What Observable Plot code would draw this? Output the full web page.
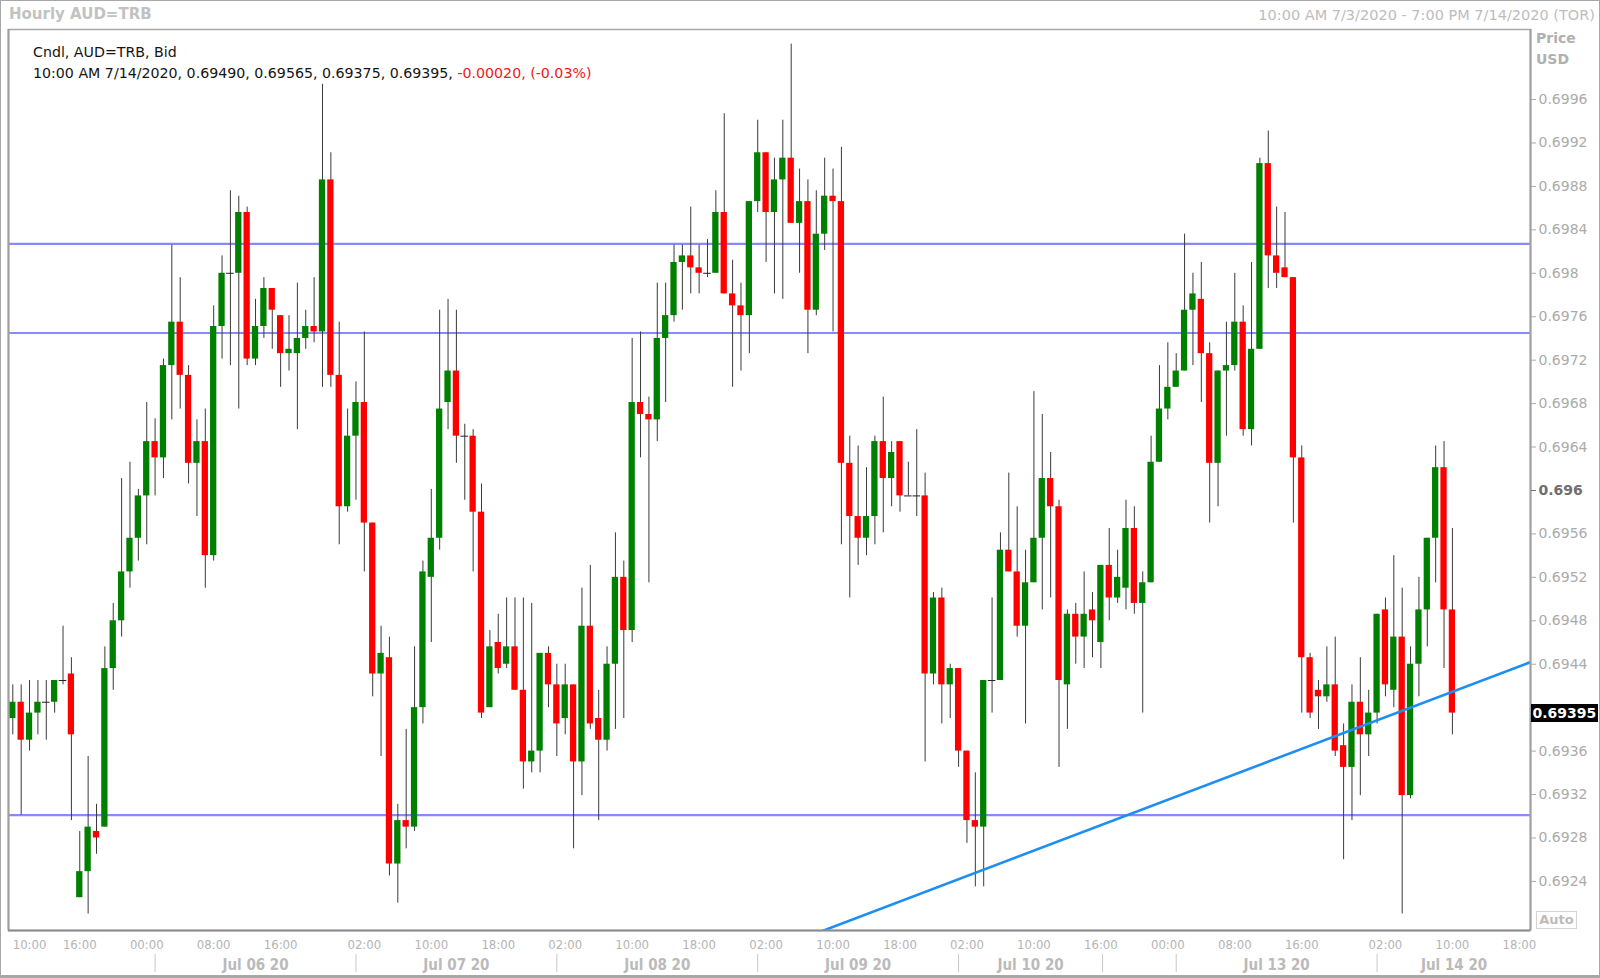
<!DOCTYPE html>
<html><head><meta charset="utf-8">
<script src="https://cdn.jsdelivr.net/npm/d3@7"></script>
<script src="https://cdn.jsdelivr.net/npm/@observablehq/plot@0.6"></script>
<style>
html,body{margin:0;padding:0;background:#fff;}
#wrap{position:relative;width:1600px;height:978px;overflow:hidden;font-family:"DejaVu Sans",sans-serif;}
#wrap svg{position:absolute;left:0;top:0;}
.ov{position:absolute;white-space:nowrap;line-height:1;}
#border{position:absolute;left:0;top:0;width:1600px;height:978px;box-sizing:border-box;border:1px solid #a8a8a8;border-bottom-width:3px;pointer-events:none;}
</style></head><body><div id="wrap"></div>
<script>
// ---- data: hourly candles AUD=TRB (index 1..173) ----
const opens = [
0.69390,0.69405,0.69370,0.69395,0.69405,0.69405,0.69425,0.69431,0.69225,0.69249,
0.69286,0.69290,0.69436,0.69480,0.69525,0.69556,0.69595,0.69645,0.69630,0.69715,
0.69755,0.69706,0.69625,0.69645,0.69540,0.69751,0.69800,0.69800,0.69856,0.69721,
0.69751,0.69786,0.69761,0.69726,0.69726,0.69740,0.69751,0.69746,0.69886,0.69706,
0.69585,0.69650,0.69681,0.69570,0.69431,0.69446,0.69256,0.69296,0.69290,0.69400,
0.69520,0.69556,0.69681,0.69710,0.69650,0.69650,0.69580,0.69400,0.69460,0.69440,
0.69456,0.69416,0.69350,0.69360,0.69450,0.69421,0.69390,0.69421,0.69350,0.69475,
0.69390,0.69370,0.69440,0.69520,0.69471,0.69681,0.69670,0.69665,0.69740,0.69761,
0.69810,0.69816,0.69805,0.69800,0.69800,0.69856,0.69781,0.69770,0.69761,0.69866,
0.69911,0.69856,0.69886,0.69906,0.69846,0.69866,0.69766,0.69836,0.69871,0.69866,
0.69625,0.69576,0.69556,0.69576,0.69645,0.69611,0.69645,0.69595,0.69595,0.69595,
0.69431,0.69501,0.69421,0.69436,0.69360,0.69296,0.69290,0.69425,0.69425,0.69545,
0.69525,0.69475,0.69515,0.69556,0.69611,0.69585,0.69421,0.69486,0.69465,0.69490,
0.69460,0.69531,0.69501,0.69510,0.69565,0.69496,0.69515,0.69626,0.69675,0.69695,
0.69710,0.69766,0.69776,0.69726,0.69625,0.69710,0.69715,0.69755,0.69656,0.69730,
0.69901,0.69816,0.69805,0.69796,0.69630,0.69446,0.69416,0.69410,0.69421,0.69365,
0.69345,0.69405,0.69375,0.69395,0.69490,0.69416,0.69465,0.69319,0.69440,0.69490,
0.69556,0.69621,0.69490];
const highs = [
0.69421,0.69421,0.69425,0.69425,0.69425,0.69425,0.69475,0.69446,0.69286,0.69355,
0.69311,0.69456,0.69496,0.69611,0.69626,0.69601,0.69681,0.69666,0.69721,0.69826,
0.69796,0.69715,0.69665,0.69675,0.69770,0.69816,0.69876,0.69871,0.69861,0.69776,
0.69796,0.69786,0.69761,0.69761,0.69791,0.69766,0.69796,0.69974,0.69911,0.69755,
0.69675,0.69700,0.69746,0.69570,0.69475,0.69465,0.69311,0.69380,0.69456,0.69535,
0.69601,0.69766,0.69776,0.69766,0.69661,0.69656,0.69606,0.69471,0.69486,0.69501,
0.69501,0.69501,0.69496,0.69450,0.69456,0.69440,0.69440,0.69421,0.69510,0.69531,
0.69416,0.69456,0.69561,0.69535,0.69740,0.69746,0.69686,0.69791,0.69791,0.69826,
0.69826,0.69861,0.69826,0.69831,0.69876,0.69947,0.69812,0.69791,0.69866,0.69941,
0.69911,0.69906,0.69941,0.70011,0.69896,0.69886,0.69876,0.69906,0.69896,0.69916,
0.69650,0.69641,0.69621,0.69650,0.69686,0.69645,0.69645,0.69626,0.69656,0.69616,
0.69506,0.69510,0.69440,0.69436,0.69360,0.69340,0.69425,0.69501,0.69561,0.69616,
0.69585,0.69545,0.69691,0.69670,0.69635,0.69591,0.69490,0.69496,0.69525,0.69506,
0.69531,0.69565,0.69545,0.69591,0.69585,0.69525,0.69650,0.69715,0.69736,0.69726,
0.69836,0.69800,0.69810,0.69736,0.69710,0.69755,0.69800,0.69770,0.69810,0.69906,
0.69931,0.69861,0.69856,0.69796,0.69641,0.69450,0.69425,0.69456,0.69465,0.69385,
0.69421,0.69446,0.69416,0.69486,0.69501,0.69540,0.69510,0.69456,0.69520,0.69556,
0.69641,0.69645,0.69565];
const lows = [
0.69375,0.69301,0.69360,0.69375,0.69370,0.69395,0.69421,0.69296,0.69225,0.69210,
0.69265,0.69290,0.69416,0.69465,0.69510,0.69535,0.69550,0.69595,0.69611,0.69665,
0.69675,0.69606,0.69576,0.69510,0.69535,0.69721,0.69715,0.69675,0.69715,0.69715,
0.69740,0.69730,0.69695,0.69710,0.69656,0.69730,0.69736,0.69695,0.69695,0.69550,
0.69580,0.69591,0.69525,0.69410,0.69355,0.69245,0.69220,0.69270,0.69286,0.69385,
0.69460,0.69545,0.69656,0.69625,0.69591,0.69525,0.69390,0.69400,0.69431,0.69436,
0.69416,0.69325,0.69340,0.69340,0.69400,0.69355,0.69375,0.69270,0.69319,0.69380,
0.69296,0.69360,0.69380,0.69390,0.69460,0.69630,0.69515,0.69645,0.69681,0.69755,
0.69766,0.69781,0.69781,0.69796,0.69800,0.69781,0.69695,0.69710,0.69726,0.69856,
0.69810,0.69781,0.69776,0.69846,0.69800,0.69726,0.69761,0.69821,0.69746,0.69550,
0.69501,0.69531,0.69540,0.69550,0.69561,0.69585,0.69580,0.69595,0.69576,0.69350,
0.69421,0.69385,0.69390,0.69345,0.69275,0.69235,0.69235,0.69395,0.69425,0.69525,
0.69465,0.69385,0.69515,0.69490,0.69501,0.69345,0.69380,0.69440,0.69436,0.69446,
0.69436,0.69480,0.69496,0.69490,0.69486,0.69395,0.69515,0.69626,0.69665,0.69695,
0.69710,0.69715,0.69681,0.69570,0.69585,0.69650,0.69710,0.69650,0.69641,0.69730,
0.69786,0.69786,0.69796,0.69570,0.69395,0.69390,0.69380,0.69405,0.69355,0.69260,
0.69296,0.69319,0.69355,0.69385,0.69410,0.69400,0.69210,0.69316,0.69410,0.69456,
0.69515,0.69436,0.69375];
const closes = [
0.69405,0.69370,0.69395,0.69405,0.69405,0.69425,0.69425,0.69375,0.69249,0.69290,
0.69280,0.69436,0.69480,0.69525,0.69556,0.69595,0.69645,0.69630,0.69715,0.69755,
0.69706,0.69625,0.69645,0.69540,0.69751,0.69800,0.69800,0.69856,0.69721,0.69751,
0.69786,0.69766,0.69726,0.69730,0.69740,0.69751,0.69746,0.69886,0.69706,0.69585,
0.69650,0.69681,0.69570,0.69431,0.69450,0.69256,0.69296,0.69290,0.69400,0.69525,
0.69556,0.69675,0.69710,0.69650,0.69650,0.69580,0.69395,0.69456,0.69436,0.69456,
0.69416,0.69350,0.69360,0.69450,0.69421,0.69385,0.69421,0.69350,0.69475,0.69385,
0.69370,0.69440,0.69520,0.69471,0.69681,0.69670,0.69665,0.69740,0.69761,0.69810,
0.69816,0.69805,0.69800,0.69800,0.69856,0.69781,0.69770,0.69761,0.69866,0.69911,
0.69856,0.69886,0.69906,0.69846,0.69866,0.69766,0.69836,0.69871,0.69866,0.69625,
0.69576,0.69556,0.69576,0.69645,0.69611,0.69635,0.69595,0.69595,0.69595,0.69431,
0.69501,0.69421,0.69436,0.69360,0.69296,0.69290,0.69425,0.69425,0.69545,0.69525,
0.69475,0.69515,0.69556,0.69611,0.69585,0.69425,0.69486,0.69465,0.69486,0.69480,
0.69531,0.69501,0.69520,0.69565,0.69496,0.69515,0.69626,0.69675,0.69695,0.69710,
0.69766,0.69781,0.69726,0.69625,0.69710,0.69715,0.69755,0.69656,0.69730,0.69901,
0.69816,0.69800,0.69796,0.69630,0.69446,0.69395,0.69410,0.69421,0.69360,0.69345,
0.69405,0.69375,0.69395,0.69486,0.69421,0.69465,0.69319,0.69440,0.69490,0.69556,
0.69621,0.69490,0.69395];

// time axis labels (candle index positions) and day labels
const timeTickPos    = [3,9,17,25,33,43,51,59,67,75,83,91,99,107,115,123,131,139,147,155,165,173,181];
const timeTickLabels = ["10:00","16:00","00:00","08:00","16:00","02:00","10:00","18:00","02:00","10:00","18:00","02:00","10:00","18:00","02:00","10:00","16:00","00:00","08:00","16:00","02:00","10:00","18:00"];
const dayLabels      = ["Jul 06 20","Jul 07 20","Jul 08 20","Jul 09 20","Jul 10 20","Jul 13 20","Jul 14 20"];
const dayLabelPos    = [30,54,78,102,122.6,152,173.2];
const daySeparators  = [18,42,66,90,114,131.2,140,164];

// price axis ticks
const priceTicks = [0.6924,0.6928,0.6932,0.6936,0.6944,0.6948,0.6952,0.6956,0.6964,0.6968,0.6972,0.6976,0.698,0.6984,0.6988,0.6992,0.6996];
const boldTick = [0.696];
const lastPrice = 0.69395;

// drawn levels and trend line
const levels = [0.69827,0.69745,0.69301];
const trendIdx = [97.6,182.33];
const trendPrice = [0.69194,0.69442];

if (![highs,lows,closes].every(a => a.length === opens.length)) throw new Error("length mismatch " + [opens.length,highs.length,lows.length,closes.length]);

const candles = opens.map((o,i) => ({k:i+1, open:o, high:highs[i], low:lows[i], close:closes[i]}));
const bodies = candles.filter(d => d.open !== d.close);
const dojis = candles.filter(d => d.open === d.close);
const trend = trendIdx.map((x,i) => ({x, y:trendPrice[i]}));
const fmt = d => String(+d.toFixed(4));
const axisFont = "DejaVu Sans";
const condFont = "'DejaVu Sans Condensed','Liberation Sans Narrow',sans-serif";

const chart = Plot.plot({
  width:1600, height:978,
  marginLeft:8, marginRight:70, marginTop:29, marginBottom:48,
  x:{domain:[0.486,182.33], axis:null},
  y:{domain:[0.691948,0.700245], axis:null},
  style:{fontFamily:axisFont, background:"transparent", overflow:"visible"},
  marks:[
    Plot.ruleY(levels, {stroke:"#8888ff", strokeWidth:2.2}),
    Plot.ruleX(candles, {x:"k", y1:"low", y2:"high", stroke:"#3a3a3a", strokeWidth:1}),
    Plot.rect(bodies, {x1:d=>d.k-0.375, x2:d=>d.k+0.375, y1:"open", y2:"close",
      fill:d=>d.close>d.open ? "#008000" : "#ff0000"}),
    Plot.ruleY(dojis, {y:"open", x1:d=>d.k-0.45, x2:d=>d.k+0.45, stroke:"#202020", strokeWidth:1}),
    Plot.line(trend, {x:"x", y:"y", stroke:"#1e8ef2", strokeWidth:2.6, clip:true}),
    Plot.frame({stroke:"#a8a8a8", strokeWidth:1.5}),
    Plot.ruleX([0.486], {stroke:"#a0a0a0", strokeWidth:2}),
    Plot.ruleX([182.33], {stroke:"#a0a0a0", strokeWidth:2}),
    Plot.ruleY([0.691948], {stroke:"#8c8c8c", strokeWidth:2}),
    Plot.axisY(priceTicks, {anchor:"right", tickSize:5, tickPadding:3, tickFormat:fmt, fontSize:14, color:"#ababab"}),
    Plot.axisY(boldTick, {anchor:"right", tickSize:5, tickPadding:3, tickFormat:fmt, fontSize:14, fontWeight:"bold", color:"#6e6e6e"}),
    Plot.ruleY([lastPrice], {stroke:"black", strokeWidth:18, insetLeft:1455, dx:68}),
    Plot.text([lastPrice], {y:d=>d, text:d=>d.toFixed(5), frameAnchor:"right", textAnchor:"start", dx:2, fill:"white", fontWeight:"bold", fontSize:14}),
    Plot.text(timeTickPos, {x:d=>d, text:(d,i)=>timeTickLabels[i], frameAnchor:"bottom", dy:14, lineAnchor:"middle", fontSize:13, fontFamily:condFont, fill:"#b4b4b4"}),
    Plot.text(dayLabelPos, {x:d=>d, text:(d,i)=>dayLabels[i], frameAnchor:"bottom", dy:34.5, lineAnchor:"middle", fontSize:15, fontWeight:"bold", fontFamily:condFont, fill:"#bababa"}),
    Plot.ruleX(daySeparators, {dy:42, insetTop:883, stroke:"#c8c8c8"})
  ]
});
const wrap = document.getElementById("wrap");
wrap.appendChild(chart);

function ov(html, css){ const d=document.createElement("div"); d.className="ov"; d.innerHTML=html; Object.assign(d.style, css); wrap.appendChild(d); return d; }
ov("Hourly AUD=TRB", {left:"9px", top:"7px", fontSize:"15px", fontWeight:"bold", color:"#c2c2c2"});
ov("10:00 AM 7/3/2020 - 7:00 PM 7/14/2020 (TOR)", {right:"5px", top:"8px", fontSize:"14.5px", color:"#bdbdbd"});
ov("Cndl, AUD=TRB, Bid", {left:"33px", top:"45px", fontSize:"14.2px", color:"#141414"});
ov("10:00 AM 7/14/2020, 0.69490, 0.69565, 0.69375, 0.69395, <span style='color:#f01818'>-0.00020, (-0.03%)</span>", {left:"33px", top:"66px", fontSize:"14.2px", color:"#141414"});
ov("Price", {left:"1536px", top:"31px", fontSize:"14px", fontWeight:"bold", color:"#b0b0b0"});
ov("USD", {left:"1536px", top:"52px", fontSize:"14px", fontWeight:"bold", color:"#b0b0b0"});
ov("Auto", {left:"1536px", top:"911px", width:"39px", height:"16px", lineHeight:"16px", textAlign:"center", fontSize:"13px", fontWeight:"bold", color:"#bcbcbc", border:"1px solid #d4d4d4"});
const b=document.createElement("div"); b.id="border"; wrap.appendChild(b);
</script></body></html>
